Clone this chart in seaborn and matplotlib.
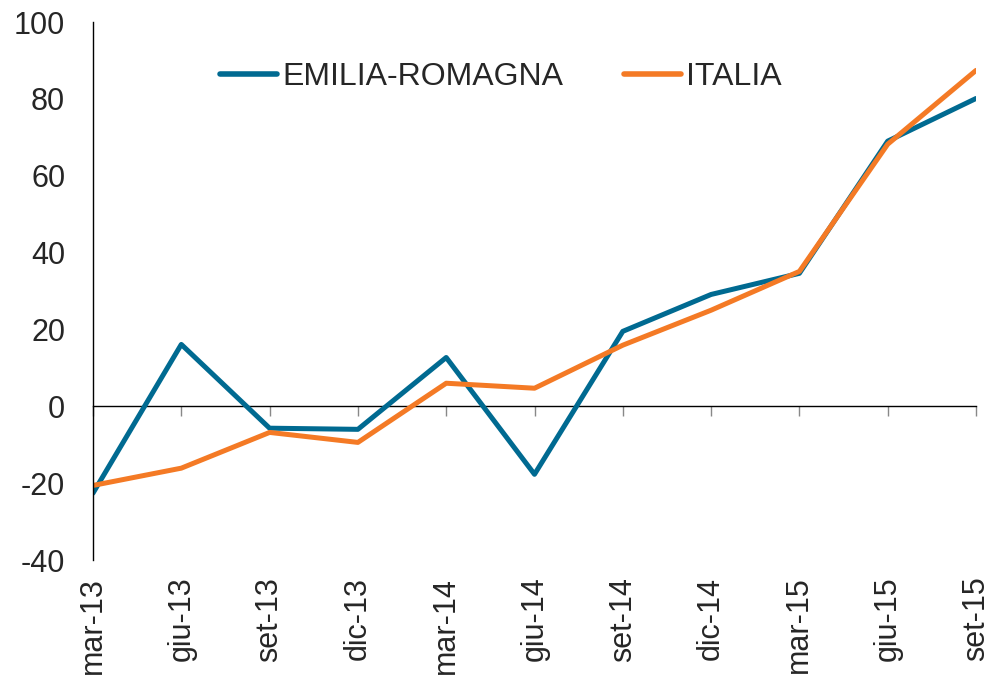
import pandas as pd
import matplotlib
matplotlib.use("Agg")
import matplotlib.pyplot as plt
import seaborn as sns

quarters = ["mar-13", "giu-13", "set-13", "dic-13", "mar-14", "giu-14",
            "set-14", "dic-14", "mar-15", "giu-15", "set-15"]
emilia = [-22.6, 16.1, -5.7, -6.0, 12.7, -17.7, 19.5, 29.1, 34.6, 69.0, 80.1]
italia = [-20.6, -16.1, -6.8, -9.4, 6.0, 4.7, 15.9, 25.0, 35.1, 68.2, 87.4]

df = pd.DataFrame({
    "pos": list(range(len(quarters))) * 2,
    "value": emilia + italia,
    "serie": ["EMILIA-ROMAGNA"] * len(quarters) + ["ITALIA"] * len(quarters),
})

sns.set_style("white")
plt.rcParams['font.family'] = ['Liberation Sans', 'DejaVu Sans']
plt.rcParams['axes.unicode_minus'] = False

fig = plt.figure(figsize=(9.92, 6.8), dpi=100)
ax = fig.add_axes([93 / 992, 120 / 680, 883 / 992, 538 / 680])

palette = {"EMILIA-ROMAGNA": "#006A91", "ITALIA": "#F47A25"}
sns.lineplot(data=df, x="pos", y="value", hue="serie", palette=palette,
             linewidth=3.6, ax=ax)

ax.set_xlim(0, len(quarters) - 1)
ax.set_ylim(-40, 100)
ax.set_yticks(range(-40, 101, 20))
ax.set_xticks(range(len(quarters)))
ax.set_xticklabels(quarters, rotation=90)
ax.set_xlabel("")
ax.set_ylabel("")

for s in ["top", "right", "bottom"]:
    ax.spines[s].set_visible(False)
ax.spines["left"].set_color("black")
ax.spines["left"].set_linewidth(1.0)
ax.tick_params(axis="y", length=0, pad=20, labelsize=22)
ax.tick_params(axis="x", length=0, pad=12, labelsize=22)

# zero line with its tick marks
sec = ax.secondary_xaxis(40 / 140)
sec.set_xticks(range(len(quarters)))
sec.set_xticklabels([])
sec.tick_params(axis="x", direction="out", length=7, color="#888888", width=1.0)
sec.spines["bottom"].set_color("black")
sec.spines["bottom"].set_linewidth(1.0)

leg = ax.legend(loc="center", bbox_to_anchor=(0.462, 0.898), ncol=2,
                frameon=False, fontsize=23, handlelength=1.8,
                handletextpad=0.15, columnspacing=1.9)
for line in leg.get_lines():
    line.set_linewidth(4)

fig.savefig("out.png", dpi=100)
